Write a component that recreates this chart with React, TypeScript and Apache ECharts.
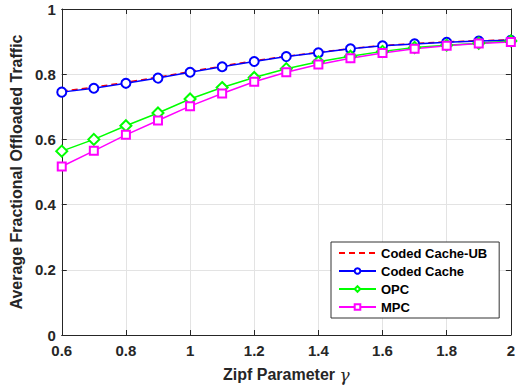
import React, { useEffect, useRef } from "react";
import * as echarts from "echarts";

const gamma = [0.6, 0.7, 0.8, 0.9, 1.0, 1.1, 1.2, 1.3, 1.4, 1.5, 1.6, 1.7, 1.8, 1.9, 2.0];
const codedCacheUB = [0.748, 0.76, 0.775, 0.791, 0.808, 0.825, 0.841, 0.855, 0.867, 0.879, 0.888, 0.894, 0.899, 0.903, 0.905];
const codedCache = [0.745, 0.757, 0.772, 0.788, 0.806, 0.823, 0.839, 0.854, 0.866, 0.878, 0.887, 0.893, 0.898, 0.902, 0.904];
const opc = [0.564, 0.6, 0.642, 0.681, 0.724, 0.759, 0.79, 0.817, 0.838, 0.855, 0.87, 0.882, 0.889, 0.895, 0.902];
const mpc = [0.517, 0.565, 0.614, 0.658, 0.702, 0.741, 0.777, 0.806, 0.83, 0.849, 0.865, 0.878, 0.887, 0.894, 0.899];

const pairs = (ys: number[]) => gamma.map((g, i) => [g, ys[i]]);

const FONT = "'Liberation Sans', Arial, Helvetica, sans-serif";
const AX = "#262626";

export default function App() {
  const ref = useRef<HTMLDivElement>(null);
  useEffect(() => {
    if (!ref.current) return;
    const chart = echarts.init(ref.current, undefined, { renderer: "svg" });
    const grid = { left: 50, right: 5, top: 9, bottom: 47 };
    const lbl = { color: AX, fontFamily: FONT, fontWeight: "bold" as const, fontSize: 15 };
    const mkSeries = (name: string, ys: number[], color: string, symbol: string, symbolSize: number, dashed = false) => ({
      name,
      type: "line",
      data: pairs(ys),
      symbol,
      symbolSize,
      showSymbol: symbol !== "none",
      lineStyle: { color, width: 1.5, type: dashed ? [6, 4] : "solid" },
      itemStyle: { color, borderColor: color, borderWidth: 1.3 },
      emphasis: { disabled: true },
    });
    chart.setOption({
      animation: false,
      backgroundColor: "#ffffff",
      grid,
      legend: {
        orient: "vertical",
        left: 331,
        top: 242,
        backgroundColor: "#ffffff",
        borderColor: "#333333",
        borderWidth: 1,
        borderRadius: 0,
        padding: [4, 12, 4, 7],
        itemWidth: 37,
        itemHeight: 7,
        itemGap: 4,
        textStyle: { color: "#000", fontFamily: FONT, fontWeight: "bold", fontSize: 13, lineHeight: 14 },
        data: [
          { name: "Coded Cache-UB", itemStyle: { opacity: 0 } },
          { name: "Coded Cache" },
          { name: "OPC" },
          { name: "MPC" },
        ],
      },
      xAxis: [
        {
          type: "value",
          min: 0.6,
          max: 2,
          interval: 0.2,
          name: "{b|Zipf Parameter }{g|γ}",
          nameLocation: "middle",
          nameGap: 31,
          nameTextStyle: {
            rich: {
              b: { fontFamily: FONT, fontWeight: "bold", fontSize: 16, color: AX },
              g: { fontFamily: "'DejaVu Serif', 'Liberation Serif', serif", fontStyle: "italic", fontSize: 17, color: AX },
            },
          },
          axisLine: { show: true, lineStyle: { color: AX, width: 1 } },
          axisTick: { show: true, inside: true, length: 5, lineStyle: { color: AX } },
          axisLabel: { ...lbl, margin: 8, formatter: (v: number) => String(Math.round(v * 10) / 10) },
          splitLine: { show: true, lineStyle: { color: "#e3e3e3", width: 1 } },
        },
        {
          type: "value",
          position: "top",
          min: 0.6,
          max: 2,
          interval: 0.2,
          axisLine: { show: true, onZero: false, lineStyle: { color: AX, width: 1 } },
          axisTick: { show: true, inside: true, length: 5, lineStyle: { color: AX } },
          axisLabel: { show: false },
          splitLine: { show: false },
        },
      ],
      yAxis: [
        {
          type: "value",
          min: 0,
          max: 1,
          interval: 0.2,
          name: "Average Fractional Offloaded Traffic",
          nameLocation: "middle",
          nameGap: 34,
          nameTextStyle: { fontFamily: FONT, fontWeight: "bold", fontSize: 16, color: AX },
          axisLine: { show: true, lineStyle: { color: AX, width: 1 } },
          axisTick: { show: true, inside: true, length: 5, lineStyle: { color: AX } },
          axisLabel: { ...lbl, margin: 6, formatter: (v: number) => String(Math.round(v * 10) / 10) },
          splitLine: { show: true, lineStyle: { color: "#e3e3e3", width: 1 } },
        },
        {
          type: "value",
          position: "right",
          min: 0,
          max: 1,
          interval: 0.2,
          axisLine: { show: true, onZero: false, lineStyle: { color: AX, width: 1 } },
          axisTick: { show: true, inside: true, length: 5, lineStyle: { color: AX } },
          axisLabel: { show: false },
          splitLine: { show: false },
        },
      ],
      series: [
        mkSeries("Coded Cache-UB", codedCacheUB, "#ff0000", "none", 0, true),
        mkSeries("Coded Cache", codedCache, "#0000ff", "emptyCircle", 9),
        mkSeries("OPC", opc, "#00ff00", "emptyDiamond", 11),
        mkSeries("MPC", mpc, "#ff00ff", "emptyRect", 8),
      ],
    });
    return () => chart.dispose();
  }, []);
  return <div ref={ref} style={{ position: "fixed", left: 0, top: 0, width: 518, height: 388 }} />;
}
